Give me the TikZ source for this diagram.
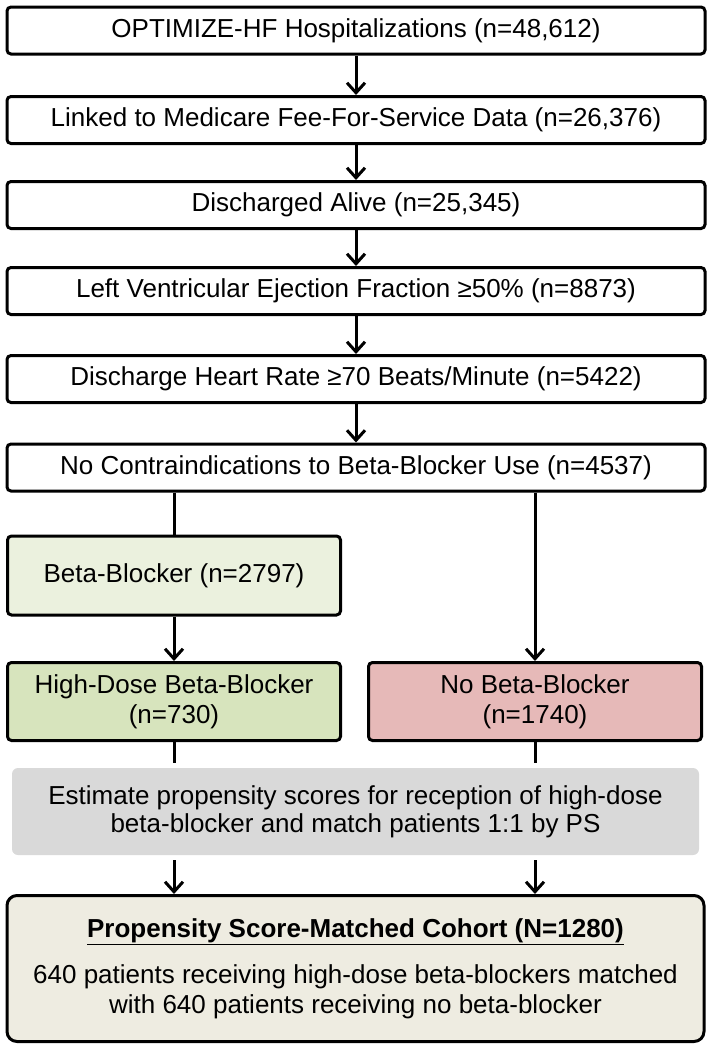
\documentclass[tikz,border=0pt]{standalone}
\usepackage{fontspec}
\setmainfont{Liberation Sans}
\usetikzlibrary{arrows.meta}

\definecolor{bbfill}{HTML}{EBF1DE}
\definecolor{hdfill}{HTML}{D7E4BD}
\definecolor{nobbfill}{HTML}{E6B9B8}
\definecolor{psfill}{HTML}{D9D9D9}
\definecolor{cohortfill}{HTML}{EEECE1}

\tikzset{
  stage/.style={draw, line width=3pt, rounded corners=4pt, fill=white,
    minimum width=698pt, minimum height=47pt, inner sep=0pt,
    align=center, font=\fontsize{26}{30}\selectfont},
  arm/.style={stage, minimum width=333pt, minimum height=78pt},
  flow/.style={line width=3pt, -{Straight Barb[length=10pt,width=18pt]}},
  link/.style={line width=3pt}
}

\begin{document}
\begin{tikzpicture}[x=1pt, y=-1pt]
\def\midx{356}
\def\leftx{174}
\def\rightx{535}

\useasboundingbox (0,0) rectangle (713,1050);

\node[stage] (hosp) at (\midx, 30.5) {OPTIMIZE-HF Hospitalizations (n=48,612)};
\node[stage] (linked) at (\midx, 120) {Linked to Medicare Fee-For-Service Data (n=26,376)};
\node[stage] (alive) at (\midx, 205) {Discharged Alive (n=25,345)};
\node[stage] (lvef) at (\midx, 291) {Left Ventricular Ejection Fraction ≥50\% (n=8873)};
\node[stage] (rate) at (\midx, 379) {Discharge Heart Rate ≥70 Beats/Minute (n=5422)};
\node[stage] (contra) at (\midx, 467.5) {No Contraindications to Beta-Blocker Use (n=4537)};

\node[arm, fill=bbfill, minimum height=79pt] (bb) at (\leftx, 575.5) {Beta-Blocker (n=2797)};
\node[arm, fill=hdfill] (hd) at (\leftx, 701.5) {High-Dose Beta-Blocker\\(n=730)};
\node[arm, fill=nobbfill] (nobb) at (\rightx, 701.5) {No Beta-Blocker\\(n=1740)};

\node[fill=psfill, rounded corners=6pt, minimum width=687pt, minimum height=87pt,
  inner sep=0pt, align=center, font=\fontsize{26}{28}\selectfont] (ps) at (355.5, 811.5)
  {Estimate propensity scores for reception of high-dose\\beta-blocker and match patients 1:1 by PS};

\node[stage, fill=cohortfill, rounded corners=10pt, minimum width=697pt, minimum height=146pt]
  (cohort) at (355.5, 968.5)
  {\textbf{\underline{Propensity Score-Matched Cohort (N=1280)}}\\[16pt]
   640 patients receiving high-dose beta-blockers matched\\with 640 patients receiving no beta-blocker};

\draw[flow] (hosp) -- (linked);
\draw[flow] (linked) -- (alive);
\draw[flow] (alive) -- (lvef);
\draw[flow] (lvef) -- (rate);
\draw[flow] (rate) -- (contra);

\draw[link] (contra.south -| bb.north) -- (bb.north);
\draw[flow] (contra.south -| nobb.north) -- (nobb.north);
\draw[flow] (bb) -- (hd);

\draw[link, shorten >=5pt] (hd.south) -- (hd.south |- ps.north);
\draw[link, shorten >=5pt] (nobb.south) -- (nobb.south |- ps.north);
\draw[flow, shorten <=5pt] (ps.south -| hd.south) -- (cohort.north -| hd.south);
\draw[flow, shorten <=5pt] (ps.south -| nobb.south) -- (cohort.north -| nobb.south);
\end{tikzpicture}
\end{document}
